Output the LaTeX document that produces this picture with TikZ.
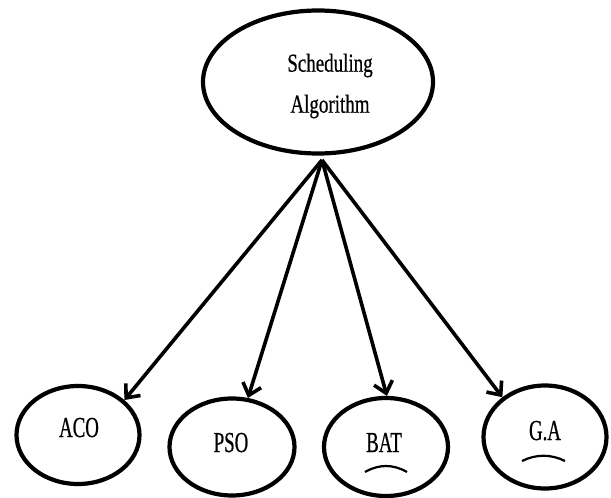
\documentclass[tikz,border=0pt]{standalone}
\usepackage{fontspec}
\setmainfont{Liberation Serif}
\newfontfamily\topfont[FakeStretch=0.73,FakeBold=0.6]{Liberation Serif}
\newfontfamily\botfont[FakeStretch=0.65,FakeBold=0.6]{Liberation Serif}
\usetikzlibrary{shapes.geometric,arrows.meta}
\begin{document}
\begin{tikzpicture}[x=1pt,y=-1pt,
  oval/.style={draw,ellipse,line width=4.2pt,inner sep=0pt},
  toptext/.style={font=\topfont\fontsize{26}{41}\selectfont,align=center,inner sep=0pt},
  bottext/.style={font=\botfont\fontsize{29}{34}\selectfont,inner sep=0pt,anchor=base},
  conn/.style={line width=3.6pt,-{Straight Barb[length=11pt,width=19pt]}},
  smile/.style={line width=2.2pt}]
\useasboundingbox (0,0) rectangle (611,498);
\node[oval,minimum width=230pt,minimum height=143pt] (top) at (318,82) {};
\node[toptext] (toplbl) at (330,86) {Scheduling\\Algorithm};
\node[oval,minimum width=123pt,minimum height=98pt] (aco) at (78,435) {};
\node[oval,minimum width=125pt,minimum height=97pt] (pso) at (232,447) {};
\node[oval,minimum width=124pt,minimum height=98pt] (bat) at (386,447) {};
\node[oval,minimum width=123pt,minimum height=103pt] (ga) at (545,437) {};
\node[bottext] (acol) at (79,437) {ACO};
\node[bottext] (psol) at (231,452) {PSO};
\node[bottext] (batl) at (384,452) {BAT};
\node[bottext] (gal) at (545,440) {G.A};
\coordinate (apex) at (322,160);
\draw[conn] (apex) -- (aco.37);
\draw[conn] (apex) -- (pso.72);
\draw[conn] (apex) -- (bat.89);
\draw[conn] (apex) -- (ga.137);
\draw[smile,shift={(bat.center)}] (-21,25) .. controls (-7,17) and (7,17) .. (21,25);
\draw[smile,shift={(ga.center)}] (-23,24) .. controls (-9,17) and (6,17) .. (20,24);
\end{tikzpicture}
\end{document}
